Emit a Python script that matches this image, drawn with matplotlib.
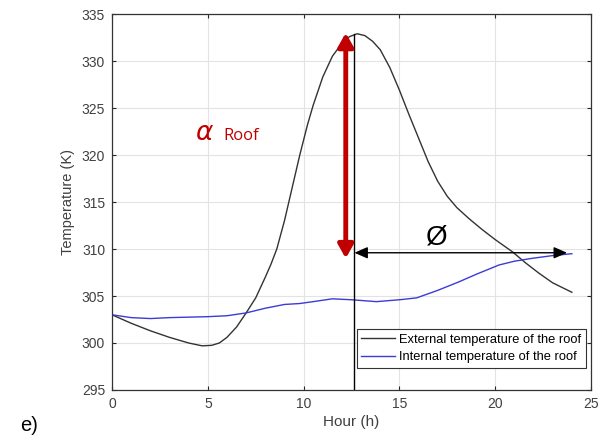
"""Roof temperature: external vs internal over one day, with amplitude and phase-lag markers."""

import matplotlib
matplotlib.use("Agg")
import matplotlib.pyplot as plt

plt.rcParams["font.family"] = ["Liberation Sans", "DejaVu Sans"]

# External roof temperature (K) by hour
ext_hour = [0, 1, 2, 3, 4, 4.7, 5.2, 5.6, 6, 6.5, 7, 7.5, 8, 8.3, 8.6, 9, 9.4,
            9.8, 10.2, 10.5, 11, 11.5, 12, 12.4, 12.8, 13.2, 13.6, 14, 14.5,
            15, 15.5, 16, 16.5, 17, 17.5, 18, 18.65, 19.3, 20, 20.9, 21.6,
            22.3, 23, 24]
ext_temp = [303.0, 302.1, 301.3, 300.6, 300.0, 299.7, 299.75, 300.0, 300.6,
            301.7, 303.2, 304.8, 307.0, 308.4, 310.0, 313.0, 316.5, 320.0,
            323.2, 325.3, 328.3, 330.5, 331.9, 332.6, 332.9, 332.7, 332.1,
            331.2, 329.3, 326.9, 324.3, 321.8, 319.3, 317.2, 315.6, 314.4,
            313.2, 312.1, 311.0, 309.7, 308.5, 307.4, 306.4, 305.4]

# Internal roof temperature (K) by hour
int_hour = [0, 1, 2, 3, 5, 6, 7, 8, 9, 9.8, 10.5, 11.5, 12.5, 13.8, 15, 15.9,
            17, 18.1, 19, 20.2, 21, 21.9, 23, 24]
int_temp = [303.0, 302.7, 302.6, 302.7, 302.8, 302.9, 303.2, 303.7, 304.1,
            304.2, 304.4, 304.7, 304.6, 304.4, 304.6, 304.8, 305.6, 306.5,
            307.3, 308.3, 308.7, 309.0, 309.3, 309.5]

# Annotation anchors
peak_hour = 12.65
peak_temp = 332.9
amp_hour = 12.2
amp_low, amp_high = 309.0, 333.0
lag_temp = 309.6
lag_start, lag_end = 12.65, 23.75

RED = "#c00000"

fig = plt.figure(figsize=(6, 4.38), dpi=100)
ax = fig.add_axes([0.1867, 0.1096, 0.7983, 0.8584])

ax.plot(ext_hour, ext_temp, color="#333333", linewidth=1.0,
        label="External temperature of the roof")
ax.plot(int_hour, int_temp, color="#3b3bd6", linewidth=1.0,
        label="Internal temperature of the roof")

# vertical marker at the peak
ax.plot([peak_hour, peak_hour], [295, peak_temp], color="black", linewidth=1.0)

# amplitude arrow (red, double-headed)
ax.annotate("", xy=(amp_hour, amp_high), xytext=(amp_hour, amp_low),
            arrowprops=dict(arrowstyle="<|-|>,head_length=0.8,head_width=0.45",
                            color=RED, linewidth=3.5, shrinkA=0, shrinkB=0))
# phase lag arrow (black, double-headed)
ax.annotate("", xy=(lag_end, lag_temp), xytext=(lag_start, lag_temp),
            arrowprops=dict(arrowstyle="<|-|>,head_length=0.8,head_width=0.35",
                            color="black", linewidth=1.0, shrinkA=0, shrinkB=0))

ax.text(4.35, 321.6, r"$\alpha$", color=RED, fontsize=19, ha="left",
        va="baseline", family="DejaVu Serif")
ax.text(5.8, 321.6, "Roof", color=RED, fontsize=12, ha="left",
        va="baseline", family="Open Sans")
ax.text(16.95, 310.5, "\u00d8", color="black", fontsize=20, ha="center",
        va="baseline", family="Liberation Sans")

ax.set_xlim(0, 25)
ax.set_ylim(295, 335)
ax.set_xticks(range(0, 26, 5))
ax.set_yticks(range(295, 336, 5))
ax.grid(True, color="#e3e3e3", linewidth=0.8)
ax.set_axisbelow(True)
ax.tick_params(direction="in", top=True, right=True, length=3, pad=5,
               labelsize=10, colors="#262626", labelcolor="#404040")
for spine in ax.spines.values():
    spine.set_edgecolor("#333333")
    spine.set_linewidth(0.9)

ax.set_xlabel("Hour (h)", fontsize=11, color="#404040", labelpad=3)
ax.set_ylabel("Temperature (K)", fontsize=10.5, color="#404040", labelpad=5)

leg = ax.legend(loc="lower right", fontsize=9.3, frameon=True, fancybox=False,
                edgecolor="#333333", framealpha=1, borderpad=0.35,
                labelspacing=0.45, handlelength=2.6, handletextpad=0.35,
                borderaxespad=0, bbox_to_anchor=(0.9896, 0.0585))
leg.get_frame().set_linewidth(0.8)

fig.text(0.033, 0.015, "e)", fontsize=14.5, color="black")

fig.savefig("out.png", dpi=100, facecolor="white")
